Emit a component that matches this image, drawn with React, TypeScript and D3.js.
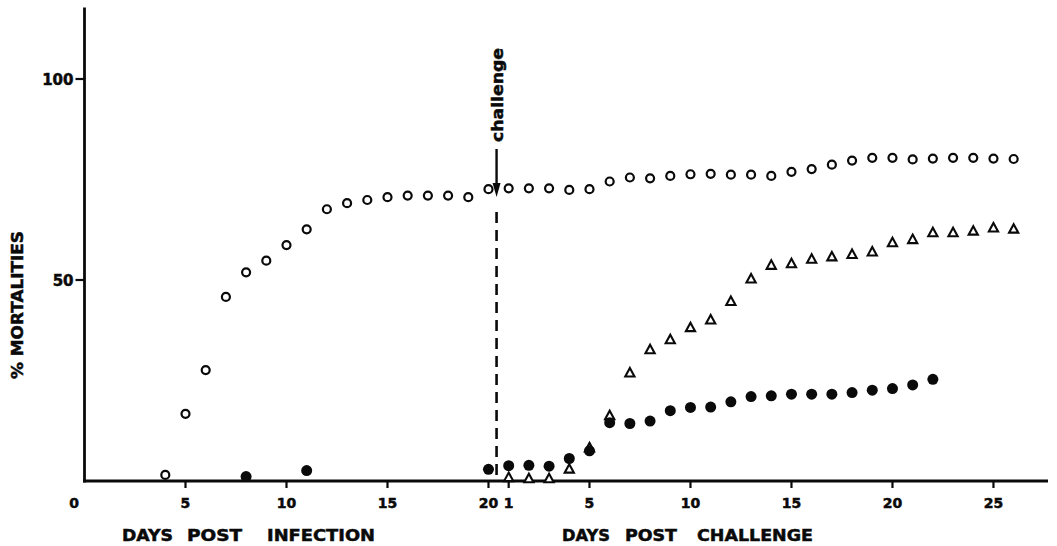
import React from "react";
import * as d3 from "d3";

// ---- data ----
const CHALLENGE_OFFSET = 20; // post-challenge day d is plotted at infection day 20 + d
const CHALLENGE_DAY = 20.4;

const openPreDays = [4, 5, 6, 7, 8, 9, 10, 11, 12, 13, 14, 15, 16, 17, 18, 19, 20];
const openPreValues = [1.5, 16.7, 27.6, 45.8, 51.9, 54.8, 58.7, 62.6, 67.6, 69.1, 69.9, 70.6, 71.0, 71.0, 71.0, 70.6, 72.6];

const postDays = Array.from({ length: 26 }, (_, i) => i + 1);
const openPostValues = [72.8, 72.8, 72.8, 72.4, 72.6, 74.5, 75.5, 75.3, 75.9, 76.3, 76.4, 76.2, 76.2, 75.9, 76.9, 77.6, 78.7, 79.7, 80.4, 80.4, 80.0, 80.2, 80.4, 80.4, 80.2, 80.1];

const filledPreDays = [8, 11, 20];
const filledPreValues = [1.1, 2.6, 2.9];
const filledPostDays = Array.from({ length: 22 }, (_, i) => i + 1);
const filledPostValues = [3.8, 3.9, 3.7, 5.6, 7.5, 14.5, 14.3, 14.9, 17.5, 18.3, 18.4, 19.7, 21.0, 21.2, 21.6, 21.6, 21.6, 22.0, 22.6, 23.0, 23.9, 25.3];

const trianglePostValues = [0.8, 0.5, 0.5, 2.9, 8.2, 16.2, 26.8, 32.6, 35.1, 38.1, 40.0, 44.6, 50.2, 53.6, 54.0, 55.1, 55.7, 56.3, 56.9, 59.2, 60.0, 61.7, 61.7, 62.1, 62.9, 62.6];

const yTicks = [50, 100];
const infectionTicks = [5, 10, 15, 20];
const challengeTicks = [1, 5, 10, 15, 20, 25];

const INK = "#0a0a0a";
const FONT = "'DejaVu Sans', sans-serif";

export default function App() {
  const W = 1057;
  const H = 546;
  const x = d3.scaleLinear().domain([0, 47.7]).range([84.5, 1048]);
  const y = d3.scaleLinear().domain([0, 100]).range([481, 79]);
  const yTop = y(117.8);

  const openPts = [
    ...openPreDays.map((d, i) => ({ d, v: openPreValues[i] })),
    ...postDays.map((d, i) => ({ d: d + CHALLENGE_OFFSET, v: openPostValues[i] })),
  ];
  const filledPts = [
    ...filledPreDays.map((d, i) => ({ d, v: filledPreValues[i] })),
    ...filledPostDays.map((d, i) => ({ d: d + CHALLENGE_OFFSET, v: filledPostValues[i] })),
  ];
  const triPts = postDays.map((d, i) => ({ d: d + CHALLENGE_OFFSET, v: trianglePostValues[i] }));

  const cx = x(CHALLENGE_DAY);
  const triPath = "M0,-5.2L4.6,3.3L-4.6,3.3Z";
  const textStroke = { stroke: INK, strokeWidth: 0.5 };

  return (
    <svg
      width={W}
      height={H}
      viewBox={`0 0 ${W} ${H}`}
      style={{ position: "absolute", left: 0, top: 0, background: "#fff" }}
      fontFamily={FONT}
      fontWeight="bold"
    >
      <rect width={W} height={H} fill="#fff" />

      {/* axes */}
      <line x1={x(0)} x2={x(0)} y1={yTop} y2={y(0) + 1.4} stroke={INK} strokeWidth={2.8} />
      <line x1={x(0) - 1.4} x2={x(47.7)} y1={y(0)} y2={y(0)} stroke={INK} strokeWidth={2.8} />

      {/* y ticks */}
      {yTicks.map((t) => (
        <g key={"y" + t}>
          <line x1={x(0) - 9} x2={x(0)} y1={y(t)} y2={y(t)} stroke={INK} strokeWidth={2.2} />
          <text x={x(0) - 11} y={y(t) + 5.5} textAnchor="end" fontSize={15} fill={INK} {...textStroke}>
            {t}
          </text>
        </g>
      ))}
      <text x={74} y={508} textAnchor="middle" fontSize={14} fill={INK} {...textStroke}>0</text>

      {/* x ticks: infection */}
      {infectionTicks.map((t) => (
        <g key={"i" + t}>
          <line x1={x(t)} x2={x(t)} y1={y(0)} y2={y(0) + 7} stroke={INK} strokeWidth={2.2} />
          <text x={x(t)} y={508} textAnchor="middle" fontSize={14} fill={INK} {...textStroke}>
            {t}
          </text>
        </g>
      ))}
      {/* x ticks: challenge */}
      {challengeTicks.map((t) => (
        <g key={"c" + t}>
          <line
            x1={x(t + CHALLENGE_OFFSET)}
            x2={x(t + CHALLENGE_OFFSET)}
            y1={y(0)}
            y2={y(0) + 7}
            stroke={INK}
            strokeWidth={2.2}
          />
          <text x={x(t + CHALLENGE_OFFSET)} y={508} textAnchor="middle" fontSize={14} fill={INK} {...textStroke}>
            {t}
          </text>
        </g>
      ))}

      {/* axis titles */}
      <g fontSize={16} fill={INK} {...textStroke}>
        <text x={122} y={541} textLength={51} lengthAdjust="spacingAndGlyphs">DAYS</text>
        <text x={187} y={541} textLength={55} lengthAdjust="spacingAndGlyphs">POST</text>
        <text x={267} y={541} textLength={108} lengthAdjust="spacingAndGlyphs">INFECTION</text>
        <text x={562} y={541} textLength={48} lengthAdjust="spacingAndGlyphs">DAYS</text>
        <text x={625} y={541} textLength={52} lengthAdjust="spacingAndGlyphs">POST</text>
        <text x={697} y={541} textLength={116} lengthAdjust="spacingAndGlyphs">CHALLENGE</text>
      </g>
      <text
        transform={`translate(23,305) rotate(-90)`}
        textAnchor="middle"
        fontSize={16}
        fill={INK}
        {...textStroke}
        textLength={148}
        lengthAdjust="spacingAndGlyphs"
      >
        % MORTALITIES
      </text>

      {/* challenge marker */}
      <text
        transform={`translate(${cx + 6},95) rotate(-90)`}
        textAnchor="middle"
        fontSize={16}
        fill={INK}
        {...textStroke}
        textLength={94}
        lengthAdjust="spacingAndGlyphs"
      >
        challenge
      </text>
      <line x1={cx} x2={cx} y1={149} y2={186} stroke={INK} strokeWidth={2.4} />
      <path d={`M${cx - 4},183L${cx + 4},183L${cx},197Z`} fill={INK} />
      <line
        x1={cx}
        x2={cx}
        y1={212}
        y2={y(0)}
        stroke={INK}
        strokeWidth={2.6}
        strokeDasharray="11,7"
      />

      {/* triangles */}
      {triPts.map((p, i) => (
        <path
          key={"t" + i}
          d={triPath}
          transform={`translate(${x(p.d)},${y(p.v)})`}
          fill="#fff"
          stroke={INK}
          strokeWidth={2.1}
          strokeLinejoin="miter"
        />
      ))}
      {/* filled circles */}
      {filledPts.map((p, i) => (
        <circle key={"f" + i} cx={x(p.d)} cy={y(p.v)} r={5.5} fill={INK} />
      ))}
      {/* open circles */}
      {openPts.map((p, i) => (
        <circle key={"o" + i} cx={x(p.d)} cy={y(p.v)} r={4} fill="#fff" stroke={INK} strokeWidth={2.2} />
      ))}
    </svg>
  );
}
